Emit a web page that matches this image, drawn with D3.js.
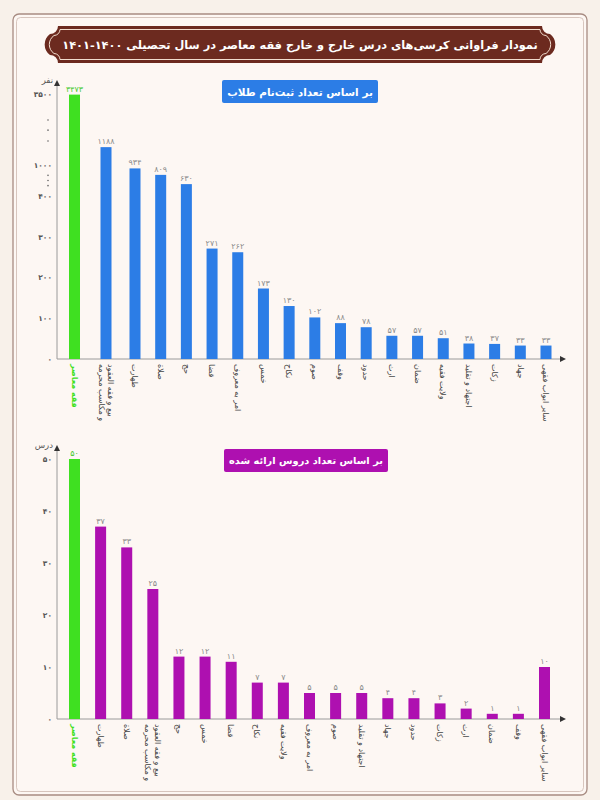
<!DOCTYPE html>
<html>
<head>
<meta charset="utf-8">
<script src="https://cdn.jsdelivr.net/npm/d3@7"></script>
<style>
  body { margin: 0; background: #f8f1ea; }
  svg { display: block; }
</style>
</head>
<body>
<svg id="chart" width="600" height="800"></svg>
<script>
const titleText = 'نمودار فراوانی کرسی‌های درس خارج و خارج فقه معاصر در سال تحصیلی ۱۴۰۰-۱۴۰۱';

// chart 1: registered students
const studentTitle = 'بر اساس تعداد ثبت‌نام طلاب';
const studentCategories = ['فقه معاصر', 'بیع و فقه العقود\nو مکاسب محرمه', 'طهارت', 'صلاة', 'حج', 'قضا',
  'امر به معروف', 'خمس', 'نکاح', 'صوم', 'وقف', 'حدود', 'ارث', 'ضمان', 'ولایت فقیه',
  'اجتهاد و تقلید', 'زکات', 'جهاد', 'سایر ابواب فقهی'];
const studentValues = [3473, 1188, 934, 809, 630, 271, 262, 173, 130, 102, 88, 78, 57, 57, 51, 38, 37, 33, 33];
const studentTicks = [0, 100, 200, 300, 400, 1000, 3500];
const studentUnit = 'نفر';

// chart 2: courses offered
const courseTitle = 'بر اساس تعداد دروس ارائه شده';
const courseCategories = ['فقه معاصر', 'طهارت', 'صلاة', 'بیع و فقه العقود\nو مکاسب محرمه', 'حج', 'خمس',
  'قضا', 'نکاح', 'ولایت فقیه', 'امر به معروف', 'صوم', 'اجتهاد و تقلید', 'جهاد', 'حدود',
  'زکات', 'ارث', 'ضمان', 'وقف', 'سایر ابواب فقهی'];
const courseValues = [50, 37, 33, 25, 12, 12, 11, 7, 7, 5, 5, 5, 4, 4, 3, 2, 1, 1, 10];
const courseTicks = [0, 10, 20, 30, 40, 50];
const courseUnit = 'درس';

const fontFa = "'DejaVu Sans', sans-serif";
const green = '#3fe021';
const fa = n => String(n).replace(/\d/g, d => '۰۱۲۳۴۵۶۷۸۹'[d]);

const svg = d3.select('#chart');

// page + frame
svg.append('rect').attr('width', 600).attr('height', 800).attr('fill', '#f8f1ea');
svg.append('rect')
  .attr('x', 13).attr('y', 14).attr('width', 574).attr('height', 781).attr('rx', 6)
  .attr('fill', '#fdf7f3').attr('stroke', '#a88c82').attr('stroke-width', 1.3);
svg.append('rect')
  .attr('x', 16.5).attr('y', 17.5).attr('width', 567).attr('height', 774).attr('rx', 4)
  .attr('fill', 'none').attr('stroke', '#cdb8af').attr('stroke-width', 0.8);

svg.append('defs').append('marker')
  .attr('id', 'arrow')
  .attr('viewBox', '0 0 6 6')
  .attr('refX', 1).attr('refY', 3)
  .attr('markerWidth', 6).attr('markerHeight', 6)
  .attr('markerUnits', 'userSpaceOnUse')
  .attr('orient', 'auto')
  .append('path')
  .attr('d', 'M0,0L6,3L0,6Z')
  .attr('fill', '#333');

// ornamental title banner
function bannerPath(x0, y0, x1, y1, n, r) {
  return `M${x0 + n},${y0}H${x1 - n}` +
    `A${n},${n} 0 0 0 ${x1},${y0 + n}` +
    `A${r},${r} 0 0 1 ${x1},${y1 - n}` +
    `A${n},${n} 0 0 0 ${x1 - n},${y1}` +
    `H${x0 + n}` +
    `A${n},${n} 0 0 0 ${x0},${y1 - n}` +
    `A${r},${r} 0 0 1 ${x0},${y0 + n}` +
    `A${n},${n} 0 0 0 ${x0 + n},${y0}Z`;
}

svg.append('path')
  .attr('d', bannerPath(50, 26, 550, 63, 8, 13))
  .attr('fill', '#6c2a1f');
svg.append('path')
  .attr('d', bannerPath(54, 29.5, 546, 59.5, 6, 11))
  .attr('fill', 'none')
  .attr('stroke', '#f1dccd')
  .attr('stroke-width', 1);

function fitText(text, maxWidth, size) {
  const len = text.node().getComputedTextLength();
  if (len > maxWidth) {
    text.attr('font-size', size * maxWidth / len);
  }
}

const title = svg.append('text')
  .attr('x', 300).attr('y', 45)
  .attr('direction', 'rtl')
  .attr('text-anchor', 'middle')
  .attr('dominant-baseline', 'central')
  .attr('font-family', fontFa)
  .attr('font-weight', 'bold')
  .attr('font-size', 16)
  .attr('fill', '#fff')
  .text(titleText);
fitText(title, 476, 16);

function generateBars() {
  let cfg = {};

  function bars(selection) {
    const g = selection.append('g');
    const { categories, values, x, y, ticks, color, baseY, topY, endX, unit, axisX, barWidth } = cfg;

    // subtitle pill
    const pill = g.append('g');
    pill.append('rect')
      .attr('x', cfg.pill[0]).attr('y', cfg.pill[1])
      .attr('width', cfg.pill[2]).attr('height', cfg.pill[3])
      .attr('rx', 2)
      .attr('fill', color);
    const pillText = pill.append('text')
      .attr('x', cfg.pill[0] + cfg.pill[2] / 2)
      .attr('y', cfg.pill[1] + cfg.pill[3] / 2)
      .attr('direction', 'rtl')
      .attr('text-anchor', 'middle')
      .attr('dominant-baseline', 'central')
      .attr('font-family', fontFa)
      .attr('font-weight', 'bold')
      .attr('font-size', 13)
      .attr('fill', '#fff')
      .text(cfg.subtitle);
    fitText(pillText, cfg.pill[2] - 10, 13);

    // y axis
    const yAxis = g.append('g')
      .attr('transform', `translate(${axisX},0)`)
      .call(d3.axisLeft(y).tickValues(ticks).tickSize(0).tickPadding(5).tickFormat(fa));
    yAxis.select('.domain').remove();
    yAxis.selectAll('text')
      .attr('font-family', fontFa)
      .attr('font-size', 7.5)
      .attr('font-weight', 'bold')
      .attr('fill', '#555');

    // break dots on the axis
    if (cfg.breaks) {
      g.selectAll('circle.break')
        .data(cfg.breaks)
        .enter()
        .append('circle')
        .attr('class', 'break')
        .attr('cx', axisX - 9)
        .attr('cy', d => y(d))
        .attr('r', 0.8)
        .attr('fill', '#666');
    }

    g.append('line')
      .attr('x1', axisX).attr('y1', baseY)
      .attr('x2', axisX).attr('y2', topY + 5)
      .attr('stroke', '#9a9a9a')
      .attr('stroke-width', 1)
      .attr('marker-end', 'url(#arrow)');
    g.append('line')
      .attr('x1', axisX).attr('y1', baseY)
      .attr('x2', endX - 5).attr('y2', baseY)
      .attr('stroke', '#9a9a9a')
      .attr('stroke-width', 1)
      .attr('marker-end', 'url(#arrow)');

    g.append('text')
      .attr('x', axisX - 4).attr('y', topY + 3)
      .attr('text-anchor', 'end')
      .attr('font-family', fontFa)
      .attr('font-size', 8.5)
      .attr('fill', '#555')
      .text(unit);

    const data = categories.map((c, i) => ({ name: c, value: values[i], i }));

    g.selectAll('rect.bar')
      .data(data)
      .enter()
      .append('rect')
      .attr('class', 'bar')
      .attr('x', d => x(d.i) - barWidth / 2)
      .attr('y', d => y(d.value))
      .attr('width', barWidth)
      .attr('height', d => baseY - y(d.value))
      .attr('fill', d => d.i === 0 ? green : color);

    g.selectAll('text.value')
      .data(data)
      .enter()
      .append('text')
      .attr('class', 'value')
      .attr('x', d => x(d.i))
      .attr('y', d => y(d.value) - 3)
      .attr('text-anchor', 'middle')
      .attr('font-family', fontFa)
      .attr('font-size', 8)
      .attr('fill', d => d.i === 0 ? '#45c92c' : '#8a8a8a')
      .text(d => fa(d.value));

    const labels = g.selectAll('text.cat')
      .data(data)
      .enter()
      .append('text')
      .attr('class', 'cat')
      .attr('transform', d => `translate(${x(d.i)},${baseY + 5}) rotate(90)`)
      .attr('font-family', fontFa)
      .attr('font-size', 8)
      .attr('font-weight', d => d.i === 0 ? 'bold' : 'normal')
      .attr('fill', d => d.i === 0 ? green : '#444');

    labels.each(function(d) {
      const lines = d.name.split('\n');
      d3.select(this).selectAll('tspan')
        .data(lines)
        .enter()
        .append('tspan')
        .attr('x', 0)
        .attr('y', (l, k) => `${(k - (lines.length - 1) / 2) * 1.15 + 0.35}em`)
        .text(l => l);
    });
  }

  bars.config = function(c) {
    if (c === undefined) {
      return cfg;
    }
    cfg = c;
    return bars;
  };

  return bars;
}

// top chart, broken axis above 400
const yStudents = d3.scaleLinear()
  .domain([0, 400, 1000, 1200, 3500])
  .range([359, 196, 165, 146, 94]);
const xStudents = d3.scaleLinear()
  .domain([0, 1, 2, studentCategories.length - 1])
  .range([74.5, 106, 135, 546]);

svg.call(generateBars().config({
  categories: studentCategories,
  values: studentValues,
  x: xStudents,
  y: yStudents,
  ticks: studentTicks,
  breaks: [2350, 1900, 1420, 800, 700, 600],
  color: '#2c7de6',
  subtitle: studentTitle,
  pill: [222, 80, 156, 23],
  baseY: 359,
  topY: 80,
  endX: 566,
  axisX: 57,
  barWidth: 11,
  unit: studentUnit,
}));

// bottom chart
const yCourses = d3.scaleLinear()
  .domain([0, 50])
  .range([719, 459]);
const xCourses = d3.scalePoint()
  .domain(d3.range(courseCategories.length))
  .range([74.5, 544.5]);

svg.call(generateBars().config({
  categories: courseCategories,
  values: courseValues,
  x: xCourses,
  y: yCourses,
  ticks: courseTicks,
  color: '#ae10b0',
  subtitle: courseTitle,
  pill: [224, 449, 164, 23],
  baseY: 719,
  topY: 445,
  endX: 566,
  axisX: 57,
  barWidth: 11,
  unit: courseUnit,
}));
</script>
</body>
</html>
